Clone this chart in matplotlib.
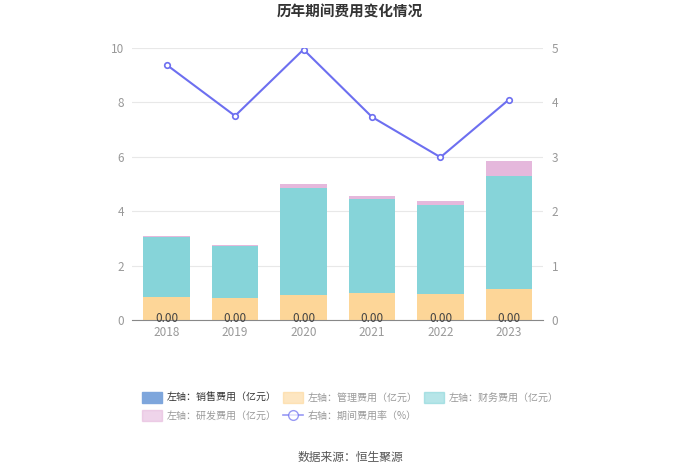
import matplotlib
matplotlib.use("Agg")
import matplotlib.pyplot as plt
from matplotlib.patches import Patch
from matplotlib.lines import Line2D
import numpy as np

plt.rcParams['font.family'] = ['Noto Sans CJK SC', 'DejaVu Sans']

years = ['2018', '2019', '2020', '2021', '2022', '2023']
sales = [0.0, 0.0, 0.0, 0.0, 0.0, 0.0]
admin = [0.84, 0.79, 0.90, 0.98, 0.96, 1.12]
finance = [2.21, 1.94, 3.95, 3.47, 3.26, 4.17]
rnd = [0.02, 0.02, 0.14, 0.09, 0.16, 0.54]
rate = [4.69, 3.75, 4.97, 3.73, 2.99, 4.05]

c_sales = '#7ea6dc'
c_admin = '#fdd698'
c_fin = '#86d4d9'
c_rnd = '#e5b8dc'
c_line = '#6d6ff0'

fig = plt.figure(figsize=(7, 4.74), dpi=100)
ax = fig.add_axes([0.189, 0.325, 0.587, 0.574])
ax2 = ax.twinx()

x = np.arange(len(years))
w = 0.68
b1 = np.array(sales)
b2 = b1 + np.array(admin)
b3 = b2 + np.array(finance)
ax.bar(x, sales, w, color=c_sales, zorder=2)
ax.bar(x, admin, w, bottom=b1, color=c_admin, zorder=2)
ax.bar(x, finance, w, bottom=b2, color=c_fin, zorder=2)
ax.bar(x, rnd, w, bottom=b3, color=c_rnd, zorder=2)
for xi, v in zip(x, sales):
    ax.text(xi, v + 0.05, f'{v:.2f}', ha='center', va='center', fontsize=8.5,
            color='#444444', zorder=5, clip_on=False)

ax2.plot(x, rate, color=c_line, lw=1.5, marker='o', ms=4, mfc='white',
         mec=c_line, mew=1.2, zorder=3)

ax.set_xlim(-0.5, 5.5)
ax.set_ylim(0, 10)
ax2.set_ylim(0, 5)
ax.set_yticks([0, 2, 4, 6, 8, 10])
ax2.set_yticks([0, 1, 2, 3, 4, 5])
ax.set_xticks(x)
ax.set_xticklabels(years)
ax.grid(axis='y', color='#e8e8e8', lw=0.8, zorder=0)
ax.set_axisbelow(True)
for a in (ax, ax2):
    for s in ('top', 'left', 'right', 'bottom'):
        a.spines[s].set_visible(False)
    a.tick_params(length=0, labelsize=8.5, labelcolor='#999999', pad=6)
ax.spines['bottom'].set_visible(True)
ax.spines['bottom'].set_color('#888888')
ax.tick_params(axis='x', pad=4)

fig.text(0.5, 0.975, '历年期间费用变化情况', ha='center', va='center',
         fontsize=10.5, fontweight='bold', color='#333333')
fig.text(0.5, 0.035, '数据来源：恒生聚源', ha='center', va='center',
         fontsize=8.5, color='#555555')

h_sales = Patch(color=c_sales)
h_admin = Patch(color=c_admin, alpha=0.6)
h_fin = Patch(color=c_fin, alpha=0.6)
h_rnd = Patch(color=c_rnd, alpha=0.6)
h_rate = Line2D([], [], color=c_line, lw=1.2, marker='o', ms=7, mfc='white',
                mec=c_line, alpha=0.7)
# matplotlib fills legend columns first, so order for row-major layout
handles = [h_sales, h_rnd, h_admin, h_rate, h_fin]
labels = ['左轴：销售费用（亿元）', '左轴：研发费用（亿元）', '左轴：管理费用（亿元）',
          '右轴：期间费用率（%）', '左轴：财务费用（亿元）']
leg = fig.legend(handles, labels, ncol=3, loc='upper left',
                 bbox_to_anchor=(0.19, 0.192), frameon=False, fontsize=7.2,
                 handlelength=2.0, handleheight=1.3, columnspacing=0.6,
                 labelspacing=0.75, handletextpad=0.5)
for t in leg.get_texts():
    t.set_color('#333333' if t.get_text().startswith('左轴：销售') else '#999999')

fig.savefig('out.png', dpi=100)
